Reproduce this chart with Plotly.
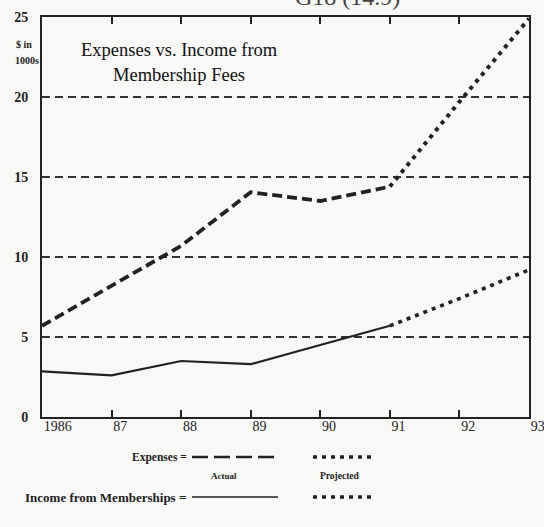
import plotly.graph_objects as go

# ---- data ----
years_actual = [1986, 1987, 1988, 1989, 1990, 1991]
years_proj = [1991, 1992, 1993]
expenses_actual = [5.7, 8.2, 10.7, 14.05, 13.5, 14.4]
expenses_proj = [14.4, 19.7, 24.9]
income_actual = [2.85, 2.6, 3.5, 3.3, 4.5, 5.7]
income_proj = [5.7, 7.4, 9.2]
x_tick_vals = [1986, 1987, 1988, 1989, 1990, 1991, 1992, 1993]
x_tick_text = ["1986", "87", "88", "89", "90", "91", "92", "93"]
y_tick_vals = [0, 5, 10, 15, 20, 25]

W, H = 544, 527
ML, MR, MT, MB = 42, 15, 17, 110
PW, PH = W - ML - MR, H - MT - MB

def px(x):
    return (x - ML) / PW

def py(y):
    return (MT + PH - y) / PH

INK = "#222222"
SERIF = "Liberation Serif"

fig = go.Figure()
fig.add_trace(go.Scatter(x=years_actual, y=expenses_actual, mode="lines",
                         line=dict(color=INK, width=3.8, dash="10px,5px"),
                         showlegend=False, hoverinfo="skip"))
fig.add_trace(go.Scatter(x=years_proj, y=expenses_proj, mode="lines",
                         line=dict(color=INK, width=4, dash="4px,5px"),
                         showlegend=False, hoverinfo="skip"))
fig.add_trace(go.Scatter(x=years_actual, y=income_actual, mode="lines",
                         line=dict(color=INK, width=2.2),
                         showlegend=False, hoverinfo="skip"))
fig.add_trace(go.Scatter(x=years_proj, y=income_proj, mode="lines",
                         line=dict(color=INK, width=3.6, dash="4px,5px"),
                         showlegend=False, hoverinfo="skip"))

fig.update_xaxes(range=[1986, 1993], tickvals=x_tick_vals, ticktext=x_tick_text,
                 ticks="inside", ticklen=7, tickwidth=1.5, tickcolor=INK,
                 ticklabelposition="outside right", ticklabeloverflow="allow",
                 ticklabelstandoff=-5,
                 showline=True, linewidth=2, linecolor=INK, mirror="ticks",
                 showgrid=False, zeroline=False,
                 tickfont=dict(family=SERIF, size=14, color=INK))
fig.update_yaxes(range=[0, 25], tickvals=y_tick_vals, ticks="",
                 ticklabelstandoff=9,
                 showline=True, linewidth=2, linecolor=INK, mirror=True,
                 showgrid=True, gridcolor="#333333", gridwidth=2, griddash="8px,5px",
                 zeroline=False,
                 tickfont=dict(family=SERIF, size=14, color=INK, weight="bold"))

def note(text, x, y, size, xanchor="center", yanchor="middle", color=INK, align="center"):
    return dict(text=text, x=px(x), y=py(y), xref="paper", yref="paper",
                xanchor=xanchor, yanchor=yanchor, showarrow=False, align=align,
                font=dict(family=SERIF, size=size, color=color))

ann = [
    note("Expenses vs. Income from", 179, 50, 18.5, color="#111111"),
    note("Membership Fees", 179, 75, 18.5, color="#111111"),
    note("<b>$ in</b>", 34, 44, 10, xanchor="right"),
    note("<b>1000s</b>", 41, 61, 10, xanchor="right"),
    note("G18 (14.9)", 347, 12, 24, yanchor="bottom", color="#444444"),
    note("<b>Expenses =</b>", 189, 457, 11.5, xanchor="right"),
    note("<b>Income from Memberships =</b>", 188, 497, 13, xanchor="right"),
    note("<b>Actual</b>", 224, 476, 9),
    note("<b>Projected</b>", 340, 476, 9.5),
]
fig.update_layout(annotations=ann)

shapes = []
shapes.append(dict(type="line", xref="paper", yref="paper", x0=px(192), x1=px(278),
                   y0=py(457), y1=py(457), line=dict(color=INK, width=2.6, dash="16px,6px")))
shapes.append(dict(type="line", xref="paper", yref="paper", x0=px(192), x1=px(278),
                   y0=py(497), y1=py(497), line=dict(color=INK, width=1.6)))
for yy in (457, 497):
    shapes.append(dict(type="line", xref="paper", yref="paper", x0=px(313), x1=px(372),
                       y0=py(yy), y1=py(yy), line=dict(color=INK, width=3.5, dash="4px,5px")))
fig.update_layout(shapes=shapes)

fig.update_layout(width=W, height=H, margin=dict(l=ML, r=MR, t=MT, b=MB, autoexpand=False),
                  paper_bgcolor="#f8f8f6", plot_bgcolor="#f8f8f6", showlegend=False)

fig.write_html("out.html", config={"displayModeBar": False},
               post_script="document.body.style.margin='0px';document.body.style.overflow='hidden';")
